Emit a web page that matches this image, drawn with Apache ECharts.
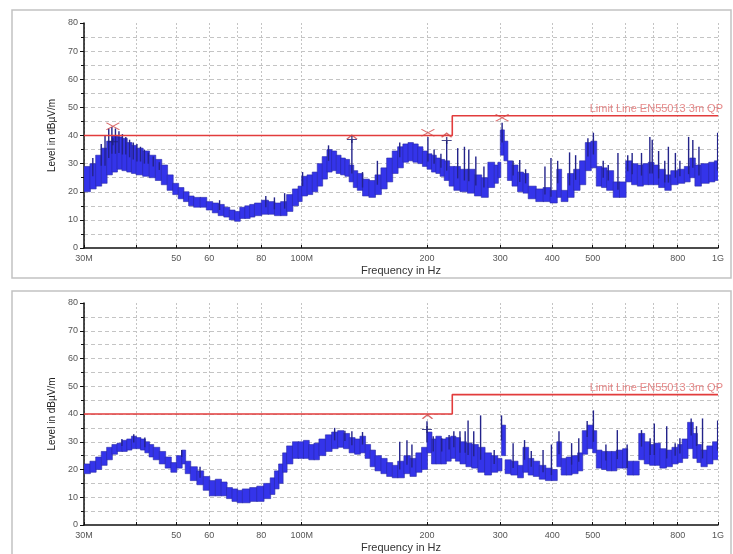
<!DOCTYPE html>
<html>
<head>
<meta charset="utf-8">
<script src="https://cdn.jsdelivr.net/npm/echarts@6/dist/echarts.min.js"></script>
<style>
  html, body { margin: 0; padding: 0; background: #fff; }
  #chart { width: 733px; height: 554px; }
</style>
</head>
<body>
<div id="chart"></div>
<script>
// Radiated emission scans, 30 MHz - 1 GHz, level in dBµV/m (two polarisations)

// ---- axes ----
const freqTickValues = [30, 40, 50, 60, 70, 80, 100, 200, 300, 400, 500, 600, 700, 800, 1000];
const freqLabelValues = [30, 50, 60, 80, 100, 200, 300, 400, 500, 800, 1000];
const freqLabelText = { 30: '30M', 100: '100M', 1000: '1G' };
const levelMin = 0, levelMax = 80, levelStep = 10;

// ---- limit line ----
const limitFreq = [30, 230, 230, 1000];
const limitLevel = [40, 40, 47, 47];
const limitName = 'Limit Line EN55013 3m QP';

// ---- upper scan: envelope of the trace (MHz, min dB, max dB) ----
const topFreq = [30, 31, 32, 33, 34, 35, 36, 37, 38, 39, 40, 41.5, 43, 44.5, 46, 47.5, 49, 50.5, 52, 53.5,
  55, 57, 59, 61, 63, 65, 67, 69, 71, 73, 75, 77, 80, 83, 86, 89, 92, 95, 98, 100,
  103, 106, 109, 112, 115, 118, 121, 124, 127, 130, 133, 136, 140, 145, 150, 155, 160, 165, 170, 175,
  180, 185, 190, 195, 200, 205, 210, 215, 220, 226, 232, 240, 250, 260, 270, 280, 290, 296, 300, 306,
  312, 320, 330, 340, 350, 365, 380, 395, 410, 420, 435, 450, 465, 480, 495, 510, 525, 540, 560, 580,
  600, 620, 640, 660, 680, 700, 720, 745, 770, 800, 830, 855, 880, 910, 950, 980, 1000];
const topLow = [20, 21, 22, 23, 26, 27, 28, 27.5, 27, 26.5, 26, 25.5, 25, 24, 22.5, 20.5, 19, 17.5, 16.5, 15,
  14.5, 14.5, 13.5, 12.5, 11.5, 11, 10, 9.5, 10.5, 10.5, 11, 11.5, 12, 12, 11.5, 11.5, 13, 15, 16.5, 18.5,
  19, 20, 22, 24.5, 27, 27.5, 26.5, 26, 25.5, 23.5, 21.5, 20.5, 18.5, 18, 19, 21, 23.5, 26.5, 28.5, 30.5,
  31, 30.5, 30, 29, 28, 27, 26.5, 25.5, 24, 22, 20.5, 20, 19.5, 18.5, 18, 21.5, 23, 25, 33, 31,
  24, 22, 20, 19.5, 17.5, 16.5, 16.5, 16, 18, 16.5, 18, 20.5, 22.5, 27.5, 28.5, 22, 21.5, 20.5, 18, 18,
  23.5, 22.5, 22, 22.5, 22.5, 22.5, 21.5, 20.5, 22.5, 23, 23.5, 25, 22, 23, 23.5, 24, 24];
const topHigh = [29, 30, 33, 35.5, 38, 40, 39.5, 39, 37.5, 36.5, 35.5, 34.5, 33, 31.5, 29.5, 26, 23, 21.5, 20, 18.5,
  18, 18, 16.5, 16, 15.5, 14.5, 13.5, 13, 14.5, 15, 15.5, 16, 17, 16.5, 16, 16.5, 19, 21, 22, 25.5,
  26, 27, 30, 32.5, 35, 34.5, 33, 32, 31.5, 29.5, 27.5, 26.5, 24.5, 24, 26, 28.5, 32, 34.5, 36, 37,
  37.5, 37, 36, 34.5, 33.5, 33, 32, 31.5, 31, 29, 29, 28, 28, 26, 25, 30.5, 29.5, 30.5, 42, 38,
  31, 29.5, 27, 26.5, 22, 21, 21.5, 20.5, 28, 20.5, 26.5, 28, 31, 37.5, 38, 29, 28.5, 27.5, 23.5, 23.5,
  31, 30, 29.5, 30, 30.5, 29.5, 28, 26, 27.5, 28, 29, 32, 29.5, 30, 30.5, 31, 31];
// narrow spikes above the envelope (MHz, peak dB)
const topSpikeFreq = [31.5, 33, 33.7, 34.4, 35, 35.7, 36.4, 37.1, 37.8, 38.6, 39.4, 40.2, 41, 41.9, 42.8, 44, 45.5,
  63.5, 82, 86, 91, 100.5, 116, 132, 140, 152, 172, 201, 208, 216, 223, 237, 246, 252, 262, 274,
  303, 322, 334, 345, 384, 397, 412, 440, 455, 487, 502, 530, 545, 575, 607, 622, 655, 686, 695,
  720, 745, 760, 790, 810, 850, 870, 900, 998];
const topSpikeLevel = [32, 37, 40, 42.5, 43, 42.5, 41.5, 40.5, 39.5, 38.5, 37.5, 37, 36, 35, 34, 32.5, 30.5,
  17, 18.5, 18, 19.5, 27, 36.5, 38.6, 27, 31, 37.5, 39.5, 35, 33.5, 38.2, 35.5, 36, 35, 32.5, 29,
  44.5, 31, 31.3, 28, 29, 32, 31, 34, 33, 39, 41, 31, 29.5, 33.8, 33, 33.8, 33.8, 39.5, 38.5,
  34.5, 31, 36, 33.8, 31, 39.5, 38.4, 36, 41];
// measured peaks
const topCrossFreq = [35.2, 201, 303];
const topCrossLevel = [43.3, 41.0, 46.3];
const topChevronFreq = [132, 223];
const topChevronLevel = [39.4, 40.1];
const topPlusFreq = [35.2, 132, 223];
const topPlusLevel = [37.8, 38.6, 38.2];

// ---- lower scan ----
const botFreq = [30, 31, 32, 33, 34, 35, 36, 37, 38, 39, 40, 41, 42, 43, 44, 45.5, 47, 48.5, 50, 51.5,
  52.5, 54, 56, 58, 60, 62, 64, 66, 68, 70, 72, 75, 78, 81, 84, 86, 88, 90, 92, 95,
  98, 101, 104, 107, 110, 114, 118, 122, 126, 130, 134, 138, 142, 146, 150, 155, 160, 165, 170, 176,
  182, 188, 194, 200, 205, 210, 216, 222, 228, 234, 240, 248, 256, 265, 275, 285, 295, 302, 308, 318,
  330, 340, 350, 360, 372, 385, 398, 410, 420, 432, 445, 460, 472, 485, 500, 510, 525, 540, 555, 570,
  590, 605, 625, 645, 665, 685, 705, 725, 750, 775, 800, 820, 845, 870, 890, 910, 940, 970, 1000];
const botLow = [18.5, 19, 20, 21.5, 23.5, 25.5, 26.5, 26.5, 27, 27.5, 27.5, 27, 26, 24.5, 23.5, 22, 20.5, 19, 20.5, 22,
  18.5, 16, 14.5, 12.5, 10.5, 10.5, 10.5, 9.5, 8.5, 8, 8, 8.5, 8.5, 9.5, 11, 13, 15, 19, 22, 24,
  24, 24, 23.5, 23.5, 25, 26.5, 27.5, 28, 27.5, 26, 25.5, 26, 24, 21, 19.5, 18.5, 17.5, 17, 17, 18.5,
  17.5, 19, 20, 26, 22, 22, 22, 23, 24, 23, 22, 21, 20.5, 19, 18, 19, 19.5, 25, 18.5, 18,
  17, 19, 18, 17.5, 16.5, 16, 16, 21, 18, 18, 18.5, 19.5, 25.5, 27.5, 26, 20.5, 20, 19.5, 19.5, 20.5,
  20.5, 18, 18, 23.5, 22, 21.5, 21.5, 20.5, 21, 22, 22.5, 24, 27.5, 24, 22.5, 21, 22, 23.5, 23.5];
const botHigh = [22, 23, 24.5, 26.5, 28, 29, 29.5, 30.5, 31, 32, 31.5, 31, 30, 29, 28, 26.5, 24.5, 22.5, 25, 27,
  23, 21, 19.5, 17.5, 16, 16.5, 15.5, 13.5, 13, 12.5, 13, 13.5, 14, 15, 17, 19.5, 22, 26, 28.5, 30,
  30, 30.5, 29, 29.5, 31, 32.5, 33.5, 34, 33, 31.5, 31, 32, 29, 27, 25, 24, 22.5, 21.5, 23, 25,
  24, 26, 28, 33.5, 31, 32, 31, 31.5, 32, 31.5, 30, 29.5, 29, 28, 26, 25, 24, 36, 23.5, 23,
  21.5, 28, 24, 23, 21.5, 20.5, 20, 30, 24, 24.5, 25, 26, 34, 36, 34, 27, 26.5, 26.5, 26.5, 27,
  27.5, 23, 23, 33, 30, 29, 29.5, 27.5, 27, 28, 29, 31, 37, 33, 29, 27, 28.5, 30, 30];
const botSpikeFreq = [37, 39.5, 42, 51.5, 57, 120, 127, 132, 140, 172, 179, 184, 200, 207, 217, 226, 232,
  240, 247, 251, 259, 269, 290, 302, 322, 343, 356, 380, 398, 415, 445, 463, 485, 502, 538, 573,
  605, 655, 687, 703, 753, 789, 810, 862, 888, 918, 998];
const botSpikeLevel = [31, 32.7, 31.5, 27, 21, 35, 34, 33.8, 33.5, 30, 30.5, 29, 37.4, 32, 31.3, 32.4, 33.8,
  33.8, 33.8, 37.7, 33.8, 39.5, 27, 39.5, 29.5, 30.6, 26.7, 27, 29, 33.8, 29.5, 31.3, 37.5, 41.3, 29, 34.2,
  29, 34.2, 31.3, 36.6, 35.6, 29.5, 31.3, 38.4, 35.6, 38.4, 37.7];
const botChevronFreq = [200.5];
const botChevronLevel = [39.0];
const botPlusFreq = [200];
const botPlusLevel = [34.4];

// ---- styling ----
const BAND_FILL = '#3434ea';
const BAND_EDGE = '#2828a8';
const SPIKE = '#23238a';
const LIMIT = '#e23c3c';
const PEAK_MARK = '#d04444';
const PLUS_MARK = '#1c1c70';
const GRID_COLOR = '#c4c4c4';
const LABEL_COLOR = '#555';

const chart = echarts.init(document.getElementById('chart'), null, { renderer: 'canvas' });

function zipPairs(xs, ys) { return xs.map((x, i) => [x, ys[i]]); }

function bandSeries(freq, low, high, idx) {
  const data = [];
  for (let i = 0; i < freq.length - 1; i++) data.push([freq[i], low[i], high[i], freq[i + 1]]);
  return {
    type: 'custom', xAxisIndex: idx, yAxisIndex: idx, clip: true, silent: true, z: 3,
    data, encode: { x: [0, 3], y: [1, 2] },
    renderItem(params, api) {
      const a = api.coord([api.value(0), api.value(2)]);
      const b = api.coord([api.value(3), api.value(1)]);
      return {
        type: 'rect',
        shape: { x: a[0], y: a[1], width: b[0] - a[0] + 0.5, height: b[1] - a[1] },
        style: { fill: BAND_FILL, stroke: BAND_EDGE, lineWidth: 0.6 }
      };
    }
  };
}

function spikeSeries(freq, level, bandF, bandLo, bandHi, idx) {
  const data = freq.map((f, k) => {
    let i = 0;
    while (i < bandF.length - 2 && bandF[i + 1] <= f) i++;
    const base = (bandLo[i] + bandHi[i]) / 2;
    return [f, level[k], base];
  });
  return {
    type: 'custom', xAxisIndex: idx, yAxisIndex: idx, clip: true, silent: true, z: 4,
    data, encode: { x: 0, y: [1, 2] },
    renderItem(params, api) {
      const t = api.coord([api.value(0), api.value(1)]);
      const b = api.coord([api.value(0), api.value(2)]);
      return {
        type: 'line',
        shape: { x1: t[0], y1: t[1], x2: b[0], y2: b[1] },
        style: { stroke: SPIKE, lineWidth: 1.4 }
      };
    }
  };
}

function markerSeries(freq, level, path, size, color, idx) {
  return {
    type: 'scatter', xAxisIndex: idx, yAxisIndex: idx, silent: true, z: 6,
    data: zipPairs(freq, level),
    symbol: path, symbolSize: size,
    itemStyle: { color: 'none', borderColor: color, borderWidth: 1.2 }
  };
}

function limitSeries(idx) {
  return {
    type: 'line', xAxisIndex: idx, yAxisIndex: idx, silent: true, z: 5,
    data: zipPairs(limitFreq, limitLevel), symbol: 'none',
    lineStyle: { color: LIMIT, width: 1.6 }
  };
}

function limitLabelSeries(idx) {
  return {
    type: 'scatter', xAxisIndex: idx, yAxisIndex: idx, silent: true, z: 7,
    data: [[limitFreq[limitFreq.length - 1], limitLevel[limitLevel.length - 1]]],
    symbolSize: 1, itemStyle: { color: 'rgba(0,0,0,0)' },
    label: {
      show: true, position: 'top', distance: 1, align: 'right', offset: [5, 0],
      formatter: limitName, color: '#e06a6a', fontSize: 11,
      fontFamily: 'Liberation Sans, Arial, sans-serif'
    }
  };
}

const CROSS = 'path://M0,0L10,10M10,0L0,10';
const CHEVRON = 'path://M0,10L5,0L10,10';
const PLUS = 'path://M5,0L5,10M0,5L10,5';

function xAxisDef(idx) {
  return {
    type: 'log', logBase: 10, gridIndex: idx, min: 30, max: 1000,
    name: 'Frequency in Hz', nameLocation: 'middle', nameGap: 17,
    nameTextStyle: { color: '#333', fontSize: 11, fontFamily: 'Liberation Sans, Arial, sans-serif' },
    axisLine: { lineStyle: { color: '#111', width: 1.5 } },
    axisTick: { show: true, inside: true, length: 3, customValues: freqTickValues, lineStyle: { color: '#111' } },
    axisLabel: {
      customValues: freqLabelValues, margin: 6, color: LABEL_COLOR, fontSize: 9,
      fontFamily: 'Liberation Sans, Arial, sans-serif',
      formatter: v => freqLabelText[Math.round(v)] || String(Math.round(v))
    },
    splitLine: { show: true, lineStyle: { color: GRID_COLOR, type: [2, 2], width: 1 } },
    minorTick: { show: false }
  };
}

function yAxisDef(idx) {
  return {
    type: 'value', gridIndex: idx, min: levelMin, max: levelMax, interval: levelStep,
    name: 'Level in dBµV/m', nameLocation: 'middle', nameGap: 20, nameRotate: 90,
    nameTextStyle: { color: '#222', fontSize: 10, fontFamily: 'Liberation Sans Narrow, Arial Narrow, Liberation Sans, sans-serif' },
    axisLine: { show: true, lineStyle: { color: '#111', width: 1.5 } },
    axisTick: { show: true, length: 4, lineStyle: { color: '#111' } },
    minorTick: { show: true, splitNumber: 2, length: 3, lineStyle: { color: '#111' } },
    axisLabel: { margin: 6, color: LABEL_COLOR, fontSize: 9, fontFamily: 'Liberation Sans, Arial, sans-serif' },
    splitLine: { show: true, showMinLine: false, showMaxLine: false, lineStyle: { color: GRID_COLOR, type: [4, 3] } },
    minorSplitLine: { show: true, lineStyle: { color: GRID_COLOR, type: [4, 3] } }
  };
}

const option = {
  backgroundColor: '#fff',
  animation: false,
  graphic: [
    { type: 'rect', shape: { x: 12, y: 10, width: 719, height: 268 }, style: { fill: 'none', stroke: '#c2c2c2', lineWidth: 1.5 }, z: -10 },
    { type: 'rect', shape: { x: 12, y: 291, width: 719, height: 270 }, style: { fill: 'none', stroke: '#c2c2c2', lineWidth: 1.5 }, z: -10 }
  ],
  grid: [
    { left: 84, top: 23, width: 634, height: 225 },
    { left: 84, top: 303, width: 634, height: 225 }
  ],
  xAxis: [xAxisDef(0), xAxisDef(1)],
  yAxis: [yAxisDef(0), yAxisDef(1)],
  series: [
    bandSeries(topFreq, topLow, topHigh, 0),
    spikeSeries(topSpikeFreq, topSpikeLevel, topFreq, topLow, topHigh, 0),
    limitSeries(0),
    limitLabelSeries(0),
    markerSeries(topCrossFreq, topCrossLevel, CROSS, [13, 7], PEAK_MARK, 0),
    markerSeries(topChevronFreq, topChevronLevel, CHEVRON, [10, 4], PEAK_MARK, 0),
    markerSeries(topPlusFreq, topPlusLevel, PLUS, [10, 7], PLUS_MARK, 0),

    bandSeries(botFreq, botLow, botHigh, 1),
    spikeSeries(botSpikeFreq, botSpikeLevel, botFreq, botLow, botHigh, 1),
    limitSeries(1),
    limitLabelSeries(1),
    markerSeries(botChevronFreq, botChevronLevel, CHEVRON, [10, 4], PEAK_MARK, 1),
    markerSeries(botPlusFreq, botPlusLevel, PLUS, [10, 7], PLUS_MARK, 1)
  ]
};

chart.setOption(option);
</script>
</body>
</html>
